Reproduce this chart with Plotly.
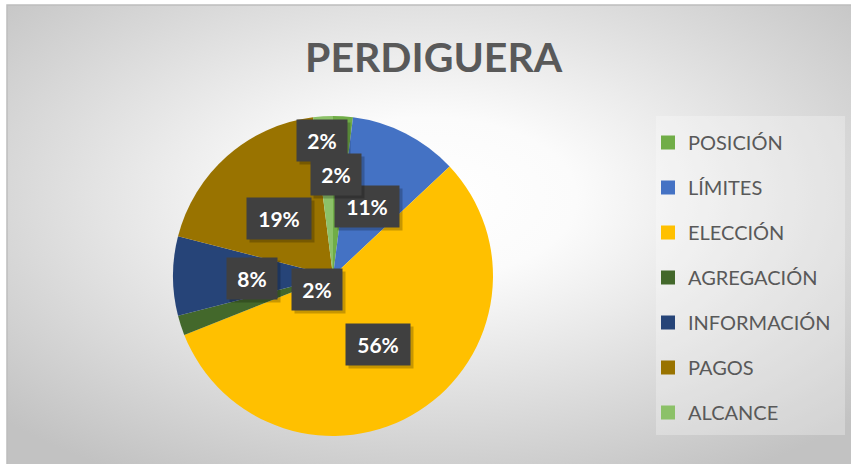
import base64
import plotly.graph_objects as go

# ---- data ----
categories = ["POSICIÓN", "LÍMITES", "ELECCIÓN", "AGREGACIÓN", "INFORMACIÓN", "PAGOS", "ALCANCE"]
values = [2, 11, 56, 2, 8, 19, 2]
colors = ["#70AD47", "#4472C4", "#FFC000", "#43682B", "#264478", "#997300", "#8CC168"]
title_text = "PERDIGUERA"

# ---- layout helpers (pixel -> paper) ----
W, H = 851, 464
def PX(x):
    return x / W
def PY(y):
    return 1 - y / H

# label box centres (Excel "best fit" placement), in pixels
label_pos = [(322, 140), (367, 206), (378, 344), (317, 289), (252, 278), (279, 218), (336, 174)]

fig = go.Figure()

fig.add_trace(go.Pie(
    labels=categories, values=values, sort=False, direction="clockwise", rotation=0,
    marker=dict(colors=colors, line=dict(width=0)),
    textinfo="none", hoverinfo="label+percent", showlegend=False,
    domain=dict(x=[PX(333 - 160), PX(333 + 160)], y=[PY(436), PY(116)]),
))

# legend entries
for c, col in zip(categories, colors):
    fig.add_trace(go.Scatter(
        x=[None], y=[None], mode="markers", name=c, legendgroup=c,
        marker=dict(symbol="square", size=14, color=col, line=dict(width=0)),
        hoverinfo="skip",
    ))

# background radial gradient
svg = ('<svg xmlns="http://www.w3.org/2000/svg" width="844" height="459" viewBox="0 0 844 459" '
       'preserveAspectRatio="none"><defs><radialGradient id="g" cx="50%" cy="42%" r="70%">'
       '<stop offset="0%" stop-color="#ffffff"/><stop offset="25%" stop-color="#fbfbfb"/>'
       '<stop offset="100%" stop-color="#c2c2c2"/></radialGradient></defs>'
       '<rect x="0" y="0" width="844" height="459" fill="url(#g)"/></svg>')
src = "data:image/svg+xml;base64," + base64.b64encode(svg.encode()).decode()

annotations = []
total = sum(values)
for (cx, cy), v in zip(label_pos, values):
    txt = f"{round(100 * v / total)}%"
    bw = 50 if len(txt) == 2 else 64
    # shadow
    annotations.append(dict(
        x=PX(cx), y=PY(cy), xref="paper", yref="paper", xanchor="center", yanchor="middle",
        text=" ", showarrow=False, width=bw, height=41, bgcolor="rgba(0,0,0,0.22)",
        xshift=3, yshift=-3, borderpad=0,
    ))
    annotations.append(dict(
        x=PX(cx), y=PY(cy), xref="paper", yref="paper", xanchor="center", yanchor="middle",
        text=f"<b>{txt}</b>", showarrow=False, width=bw, height=41, bgcolor="#404040",
        font=dict(family="Lato", size=21, color="#ffffff"), borderpad=0,
    ))

annotations.append(dict(
    x=PX(434), y=PY(57), xref="paper", yref="paper", xanchor="center", yanchor="middle",
    text=f"<b>{title_text}</b>", showarrow=False,
    font=dict(family="Lato", size=41, color="#595959"),
))

fig.update_layout(
    width=W, height=H, margin=dict(l=0, r=0, t=0, b=0),
    paper_bgcolor="#ffffff", plot_bgcolor="rgba(0,0,0,0)",
    xaxis=dict(visible=False), yaxis=dict(visible=False),
    images=[dict(source=src, xref="paper", yref="paper", x=PX(7), y=PY(5),
                 sizex=PX(851) - PX(7), sizey=PY(5) - PY(464), xanchor="left", yanchor="top",
                 sizing="stretch", layer="below")],
    shapes=[
        dict(type="rect", xref="paper", yref="paper", x0=PX(7), y0=PY(470), x1=PX(860), y1=PY(5),
             line=dict(color="#bdbdbd", width=1.5), fillcolor="rgba(0,0,0,0)", layer="below"),
        dict(type="rect", xref="paper", yref="paper", x0=PX(656), y0=PY(435), x1=PX(845), y1=PY(116),
             line=dict(width=0), fillcolor="rgba(255,255,255,0.28)", layer="below"),
    ],
    legend=dict(x=PX(648), y=PY(123), xanchor="left", yanchor="top",
                bgcolor="rgba(0,0,0,0)", tracegroupgap=16, itemwidth=30,
                font=dict(family="Lato", size=20, color="#595959")),
    annotations=annotations,
    showlegend=True,
)

fig.write_html("out.html", config={"displayModeBar": False},
               post_script="document.body.style.margin='0px';")
